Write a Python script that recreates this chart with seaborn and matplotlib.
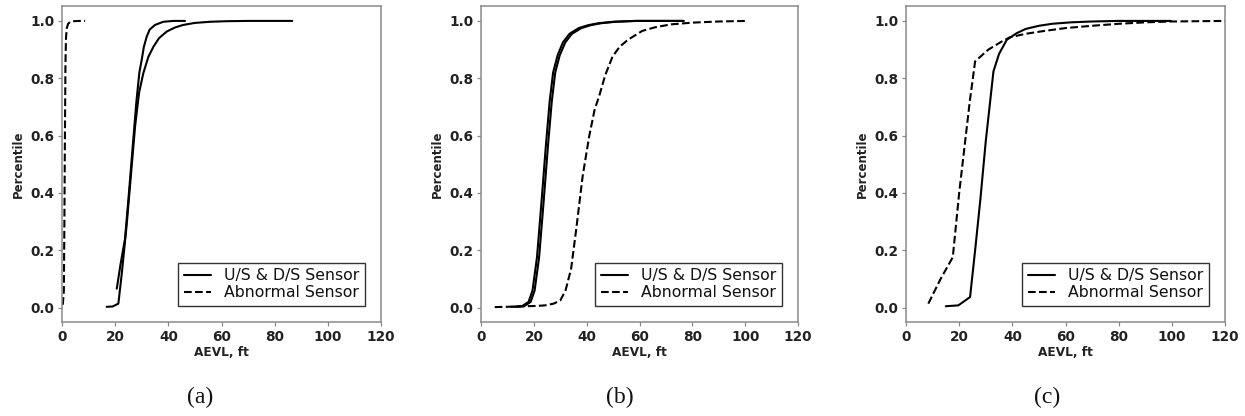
import matplotlib
matplotlib.use("Agg")
import matplotlib.pyplot as plt
from matplotlib.lines import Line2D
import seaborn as sns

sns.set_theme(style="ticks")
plt.rcParams['font.family'] = ['DejaVu Sans']

# ---------------- data ----------------
# Panel (a)
a_s1_x = [20.6, 22.0, 23.7, 25.0, 26.5, 28.0, 29.1, 30.0, 30.8, 31.9, 33.0, 35.0, 38.1, 42.0, 46.3]
a_s1_y = [0.066, 0.15, 0.24, 0.38, 0.55, 0.72, 0.82, 0.865, 0.91, 0.946, 0.97, 0.986, 0.997, 1.0, 1.0]
a_s2_x = [16.8, 19.0, 21.2, 22.5, 24.3, 26.0, 27.5, 29.0, 30.6, 32.5, 34.4, 36.5, 39.4, 42.5, 45.6, 50.0, 55.7, 62.0, 70.0, 86.6]
a_s2_y = [0.003, 0.004, 0.014, 0.12, 0.286, 0.47, 0.633, 0.75, 0.818, 0.875, 0.91, 0.94, 0.963, 0.977, 0.986, 0.993, 0.997, 0.999, 1.0, 1.0]
a_ab_x = [0.3, 0.7, 0.9, 1.1, 1.3, 1.5, 1.8, 2.3, 3.0, 4.5, 6.5, 8.7]
a_ab_y = [0.01, 0.06, 0.3, 0.6, 0.85, 0.94, 0.975, 0.99, 0.996, 0.999, 1.0, 1.0]

# Panel (b)
b_s1_x = [11.5, 15.5, 18.0, 19.5, 21.2, 23.0, 24.6, 26.0, 27.3, 29.0, 31.0, 33.5, 37.0, 40.5, 44.5, 50.0, 58.0, 76.8]
b_s1_y = [0.003, 0.005, 0.02, 0.06, 0.176, 0.38, 0.57, 0.72, 0.82, 0.88, 0.925, 0.955, 0.975, 0.985, 0.992, 0.997, 1.0, 1.0]
b_s2_x = [12.5, 16.3, 18.8, 20.3, 22.0, 23.8, 25.4, 26.8, 28.1, 29.8, 31.9, 34.4, 38.0, 41.5, 45.5, 51.0, 59.0, 76.5]
b_s2_y = [0.003, 0.005, 0.02, 0.06, 0.176, 0.38, 0.57, 0.72, 0.82, 0.88, 0.925, 0.955, 0.975, 0.985, 0.992, 0.997, 1.0, 1.0]
b_ab_x = [5.2, 10.0, 16.7, 21.0, 24.3, 27.5, 30.0, 32.0, 34.1, 36.0, 38.5, 41.0, 43.0, 44.8, 47.0, 49.8, 52.5, 55.6, 61.0, 66.0, 72.0, 80.0, 90.0, 101.0]
b_ab_y = [0.002, 0.003, 0.005, 0.006, 0.008, 0.014, 0.025, 0.06, 0.135, 0.27, 0.46, 0.6, 0.69, 0.74, 0.81, 0.876, 0.91, 0.934, 0.965, 0.978, 0.988, 0.994, 0.998, 1.0]

# Panel (c)
c_s1_x = [15.0, 19.7, 24.1, 26.0, 28.0, 30.0, 32.9, 35.0, 37.9, 41.6, 45.0, 50.0, 55.0, 62.0, 70.0, 80.0, 99.6]
c_s1_y = [0.005, 0.008, 0.037, 0.2, 0.38, 0.58, 0.824, 0.885, 0.934, 0.957, 0.972, 0.983, 0.99, 0.995, 0.998, 1.0, 1.0]
c_ab_x = [8.4, 13.0, 17.6, 20.0, 22.0, 24.0, 26.0, 31.0, 36.0, 39.1, 45.0, 52.0, 60.0, 70.0, 80.0, 90.0, 100.0, 120.0]
c_ab_y = [0.014, 0.1, 0.176, 0.4, 0.56, 0.72, 0.859, 0.9, 0.928, 0.943, 0.955, 0.965, 0.975, 0.983, 0.99, 0.995, 0.998, 1.0]

x_ticks = [0, 20, 40, 60, 80, 100, 120]
y_ticks = [0.0, 0.2, 0.4, 0.6, 0.8, 1.0]
captions = ["(a)", "(b)", "(c)"]
legend_labels = ["U/S & D/S Sensor", "Abnormal Sensor"]

panels = [
    ([(a_s1_x, a_s1_y), (a_s2_x, a_s2_y)], [(a_ab_x, a_ab_y)]),
    ([(b_s1_x, b_s1_y), (b_s2_x, b_s2_y)], [(b_ab_x, b_ab_y)]),
    ([(c_s1_x, c_s1_y)], [(c_ab_x, c_ab_y)]),
]

# ---------------- figure ----------------
W, H = 1245, 416
fig = plt.figure(figsize=(W / 100, H / 100), dpi=100)
fig.patch.set_facecolor("white")

ax_px = [(62, 381), (481, 798), (906, 1225)]
top_px, bot_px = 6, 322
cap_x = [200, 620, 1047]

spine_col = "#8a8a8a"
for i, ((solids, dashed), (l, r)) in enumerate(zip(panels, ax_px)):
    ax = fig.add_axes([l / W, 1 - bot_px / H, (r - l) / W, (bot_px - top_px) / H])
    ax.set_facecolor("white")
    for sx, sy in solids:
        sns.lineplot(x=sx, y=sy, ax=ax, color="black", linewidth=1.5, sort=False,
                     estimator=None, linestyle="-")
    for dx, dy in dashed:
        sns.lineplot(x=dx, y=dy, ax=ax, color="black", linewidth=1.5, sort=False,
                     estimator=None, linestyle="--")
    ax.set_xlim(0, 120)
    ax.set_ylim(-0.05, 1.052)
    ax.set_xticks(x_ticks)
    ax.set_yticks(y_ticks)
    ax.set_xticklabels([str(t) for t in x_ticks], fontsize=9.8, fontweight="bold", color="#222222")
    ax.set_yticklabels([f"{t:.1f}" for t in y_ticks], fontsize=9.8, fontweight="bold", color="#222222")
    ax.set_xlabel("AEVL, ft", fontsize=8.7, fontweight="bold", color="#222222", labelpad=2)
    ax.set_ylabel("Percentile", fontsize=8.5, fontweight="bold", color="#222222", labelpad=4)
    ax.tick_params(axis="both", direction="out", length=3, width=0.9, color=spine_col, pad=2.5)
    for sp in ax.spines.values():
        sp.set_visible(True)
        sp.set_color(spine_col)
        sp.set_linewidth(1.1)
    handles = [Line2D([], [], color="black", lw=1.5, ls="-"),
               Line2D([], [], color="black", lw=1.5, ls="--")]
    leg = ax.legend(handles, legend_labels, loc="lower right",
                    prop={"family": ["DejaVu Sans"], "size": 11.3},
                    frameon=True, fancybox=False, framealpha=1, edgecolor="#333333",
                    borderaxespad=1.05, handlelength=1.75, handletextpad=0.8,
                    labelspacing=0.1, borderpad=0.35)
    leg.get_frame().set_linewidth(1.0)
    for t in leg.get_texts():
        t.set_color("#111111")
    fig.text(cap_x[i] / W, 1 - 397 / H, captions[i], ha="center", va="center",
             fontsize=17, family=["Liberation Serif", "DejaVu Serif"], color="#111111")

fig.savefig("out.png", dpi=100, facecolor="white")
